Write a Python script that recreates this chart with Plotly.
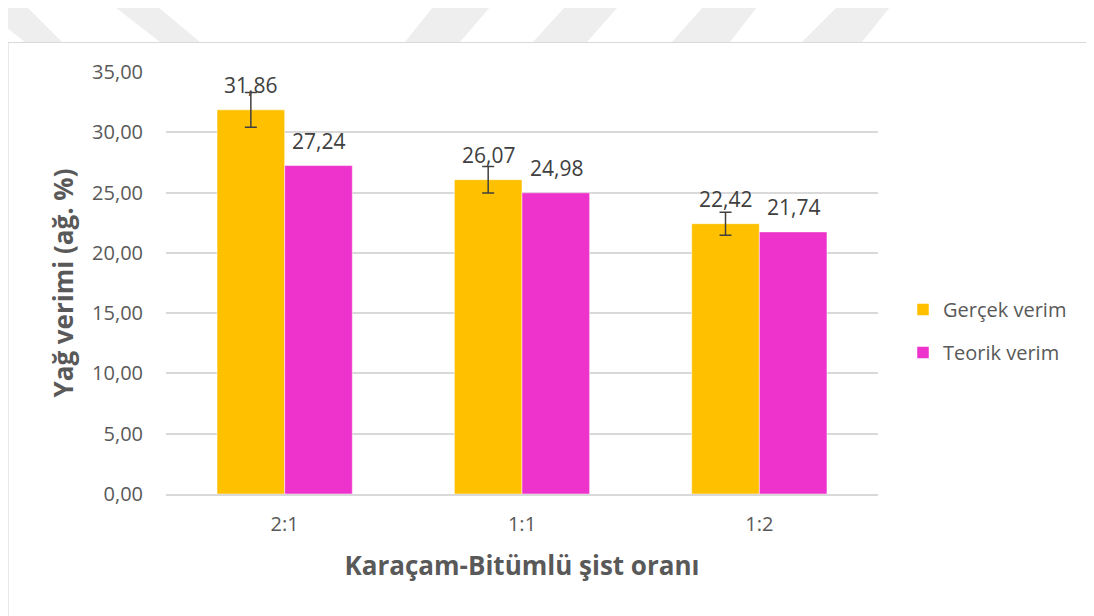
import plotly.graph_objects as go

# data
oranlar = ["2:1", "1:1", "1:2"]
gercek_verim = [31.86, 26.07, 22.42]
gercek_hata = [1.45, 1.1, 0.95]
teorik_verim = [27.24, 24.98, 21.74]

turuncu = "#FFC000"
pembe = "#EE33CC"
yazi = "#595959"
fnt = "Open Sans"

fig = go.Figure()
fig.add_trace(go.Bar(
    x=oranlar, y=gercek_verim, name="Gerçek verim",
    marker=dict(color=turuncu, line=dict(color="white", width=0.5)),
    error_y=dict(type="data", array=gercek_hata, color="#404040", thickness=1.5, width=6),
    legendgroup="a",
))
fig.add_trace(go.Bar(
    x=oranlar, y=teorik_verim, name="Teorik verim",
    marker=dict(color=pembe, line=dict(color="white", width=0.5)),
    legendgroup="b",
))

# data labels, Excel style (comma decimals)
for xs, ys, dx in [(oranlar, gercek_verim, -34), (oranlar, teorik_verim, 34)]:
    for x, y in zip(xs, ys):
        fig.add_annotation(x=x, y=y, text=f"{y:.2f}".replace(".", ","),
                           showarrow=False, xshift=dx, yanchor="bottom", yshift=9,
                           font=dict(family=fnt, size=21, color="#404040"))

# page pixels of the reference; the page body adds an 8px margin around the figure
W, H = 1094, 616
OFF = 8
L, R, T, B = 166, 878, 72, 494
def px(x): return (x - L) / (R - L)
def py(y): return (B - y) / (B - T)

fig.add_shape(type="rect", xref="paper", yref="paper",
              x0=px(8), x1=px(1110), y0=py(42.5), y1=py(640),
              line=dict(color="#D9D9D9", width=1.2), layer="below")

# faint watermark stripes at the top
stripes = [((-20, 27), (25, 62)), ((115, 158), (160, 200)),
           ((433, 490), (405, 460)), ((565, 618), (533, 587)),
           ((703, 757), (672, 730)), ((837, 890), (802, 862))]
for top, bot in stripes:
    path = (f"M {px(top[0])},{py(7)} L {px(top[1])},{py(7)} "
            f"L {px(bot[1])},{py(42)} L {px(bot[0])},{py(42)} Z")
    fig.add_shape(type="path", xref="paper", yref="paper", path=path,
                  fillcolor="#EEEEEE", line=dict(width=0), layer="below")

Wf, Hf = W - OFF, H - OFF
fig.update_layout(
    width=Wf, height=Hf,
    margin=dict(l=L - OFF, r=Wf - (R - OFF), t=T - OFF, b=Hf - (B - OFF)),
    paper_bgcolor="white", plot_bgcolor="white",
    barmode="group", bargap=0.43, bargroupgap=0,
    font=dict(family=fnt, color=yazi),
    legend=dict(x=px(903), y=py(331), xanchor="left", yanchor="middle",
                font=dict(size=20, color=yazi), tracegroupgap=14,
                traceorder="grouped", itemwidth=30),
    xaxis=dict(showline=True, linecolor="#D9D9D9", linewidth=1.5,
               tickfont=dict(size=20, color=yazi), ticks="", ticklabelstandoff=11,
               title=dict(text="<b>Karaçam-Bitümlü şist oranı</b>",
                          font=dict(size=26, color=yazi), standoff=21)),
    yaxis=dict(range=[0, 35], dtick=5, tickformat=".2f",
               showgrid=True, gridcolor="#D9D9D9", gridwidth=1.5,
               zeroline=False, ticks="",
               tickfont=dict(size=20, color=yazi), ticklabelstandoff=22,
               title=dict(text="<b>Yağ verimi (ağ. %)</b>",
                          font=dict(size=26, color=yazi), standoff=10)),
    separators=",.",
)

fig.write_html("out.html")
